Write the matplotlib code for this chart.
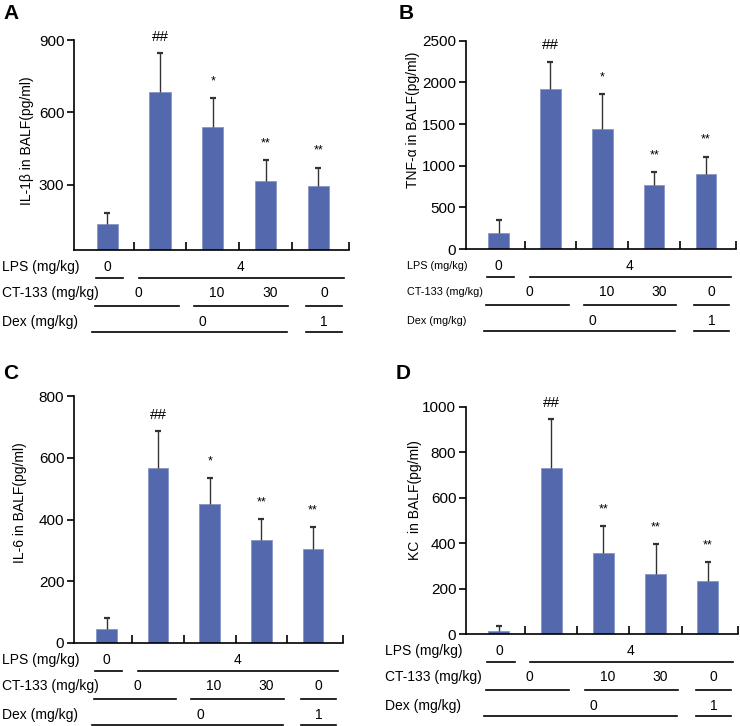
import numpy as np
import matplotlib
matplotlib.use("Agg")
import matplotlib.pyplot as plt
import matplotlib.transforms as mtransforms

plt.rcParams['font.family'] = ['Liberation Sans', 'DejaVu Sans']

# data
groups = ["Control", "LPS", "LPS+CT-133 10", "LPS+CT-133 30", "LPS+Dex"]

il1b_mean = [137, 685, 541, 315, 296]
il1b_err = [46, 160, 118, 88, 76]
il1b_marks = ["", "##", "*", "**", "**"]

tnfa_mean = [193, 1917, 1438, 771, 903]
tnfa_err = [151, 331, 423, 152, 207]
tnfa_marks = ["", "##", "*", "**", "**"]

il6_mean = [44, 568, 451, 333, 306]
il6_err = [38, 118, 83, 68, 70]
il6_marks = ["", "##", "*", "**", "**"]

kc_mean = [15, 729, 357, 263, 233]
kc_err = [20, 216, 117, 131, 84]
kc_marks = ["", "##", "**", "**", "**"]

row_names = ["LPS (mg/kg)", "CT-133 (mg/kg)", "Dex (mg/kg)"]
lps_vals = ["0", "4"]
ct_vals = ["0", "10", "30", "0"]
dex_vals = ["0", "1"]

# layout of the dose table under each panel (x in bar units)
lps_x = [0.0, 2.53]
ct_x = [0.59, 2.08, 3.09, 4.11]
dex_x = [1.81, 4.11]
lps_lines = [(-0.22, 0.30), (0.60, 4.48)]
ct_lines = [(-0.24, 1.35), (1.64, 3.43), (3.77, 4.44)]
dex_lines = [(-0.29, 3.41), (3.77, 4.44)]

BAR = "#5468ae"
W, H = 740, 726

fig = plt.figure(figsize=(W / 100, H / 100), dpi=100)


def add_axes(l, r, t, b):
    return fig.add_axes([l / W, 1 - b / H, (r - l) / W, (b - t) / H])


def panel(ax, means, errs, marks, ylim, yticks, ylabel, ylab_xy, rowlab_x, rowlab_fs):
    x = np.arange(len(means))
    ax.bar(x, means, width=0.4, color=BAR, edgecolor="#8796c8", linewidth=0.6, zorder=2)
    eb = ax.errorbar(x, means, yerr=[np.zeros(len(errs)), errs], fmt="none",
                     ecolor="#333333", elinewidth=1.0, capsize=2.2, capthick=1.6, zorder=3)
    eb[1][0].set_visible(False)  # no cap at the bar top
    for xi, m, e, s in zip(x, means, errs, marks):
        if s:
            fs = 11 if s == "##" else 9
            ax.annotate(s, (xi, m + e), xytext=(0, 12), textcoords="offset points",
                        ha="center", va="center", fontsize=fs)
    ax.set_xlim(-0.63, 4.58)
    ax.set_ylim(*ylim)
    ax.set_yticks(yticks)
    ax.set_xticks([0.5, 1.5, 2.5, 3.5, 4.58])
    ax.set_xticklabels([])
    for s in ["top", "right"]:
        ax.spines[s].set_visible(False)
    for s in ["left", "bottom"]:
        ax.spines[s].set_linewidth(1.2)
    ax.tick_params(axis="y", direction="out", length=5, width=1.2, labelsize=11, pad=2)
    ax.tick_params(axis="x", direction="in", length=6, width=1.2)
    ax.text(ylab_xy[0], ylab_xy[1], ylabel, rotation=90, ha="center", va="center",
            fontsize=10, transform=ax.transAxes)

    # dose table below the axis, offsets in pixels
    hpx = ax.get_position().height * H
    tr = mtransforms.blended_transform_factory(ax.transData, ax.transAxes)
    trf = mtransforms.blended_transform_factory(fig.transFigure, ax.transAxes)
    rows = [(lps_vals, lps_x, lps_lines), (ct_vals, ct_x, ct_lines), (dex_vals, dex_x, dex_lines)]
    text_dy = [17, 43, 72]
    line_dy = [27.5, 56, 82]
    for name, (vals, xs, lines), tdy, ldy in zip(row_names, rows, text_dy, line_dy):
        yt = -tdy / hpx
        yl = -ldy / hpx
        ax.text(rowlab_x / W, yt, name, ha="left", va="center", fontsize=rowlab_fs,
                transform=trf, clip_on=False)
        for v, xv in zip(vals, xs):
            ax.text(xv, yt, v, ha="center", va="center", fontsize=10,
                    transform=tr, clip_on=False)
        for x0, x1 in lines:
            ax.plot([x0, x1], [yl, yl], color="black", lw=1.2, transform=tr, clip_on=False)


axA = add_axes(74, 349, 40, 250)
panel(axA, il1b_mean, il1b_err, il1b_marks, (31, 900), [300, 600, 900],
      "IL-1\u03b2 in BALF(pg/ml)", (-0.17, 0.52), 2, 10)

axB = add_axes(466, 736, 40.7, 249)
panel(axB, tnfa_mean, tnfa_err, tnfa_marks, (0, 2500), [0, 500, 1000, 1500, 2000, 2500],
      "TNF-\u03b1 in BALF(pg/ml)", (-0.196, 0.62), 407, 7.8)

axC = add_axes(74, 343, 396, 643)
panel(axC, il6_mean, il6_err, il6_marks, (0, 800), [0, 200, 400, 600, 800],
      "IL-6 in BALF(pg/ml)", (-0.2, 0.57), 2, 10)

axD = add_axes(466, 738, 406.7, 634)
panel(axD, kc_mean, kc_err, kc_marks, (0, 1000), [0, 200, 400, 600, 800, 1000],
      "KC  in BALF(pg/ml)", (-0.1875, 0.59), 385, 10)

for lab, px, py in [("A", 3, 4), ("B", 399, 4), ("C", 3, 364), ("D", 396, 364)]:
    fig.text(px / W, 1 - py / H, lab, ha="left", va="top", fontsize=15, fontweight="bold")

fig.savefig("out.png", dpi=100)
